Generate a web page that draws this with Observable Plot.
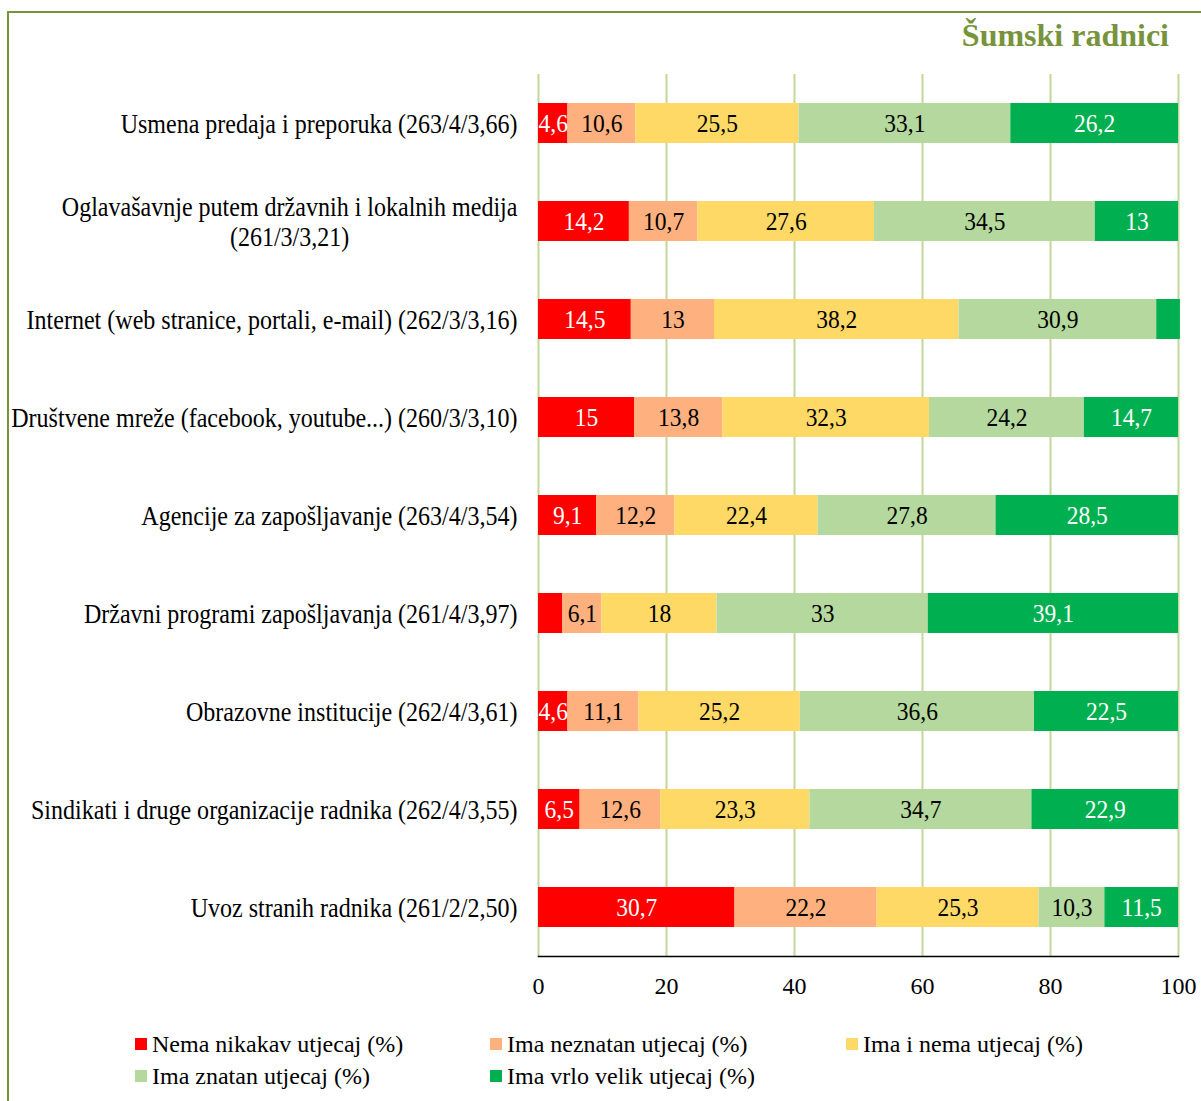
<!DOCTYPE html>
<html>
<head>
<meta charset="utf-8">
<script src="https://cdn.jsdelivr.net/npm/d3@7"></script>
<script src="https://cdn.jsdelivr.net/npm/@observablehq/plot@0.6"></script>
<style>
  body { margin: 0; background: #fff; }
  #root { position: relative; width: 1201px; height: 1101px; overflow: hidden; background: #fff;
          font-family: "Liberation Serif", "Times New Roman", serif; }
  #border { position: absolute; left: 7px; top: 11px; right: -5px; bottom: -5px;
            border-left: 2px solid #77933C; border-top: 2px solid #77933C; }
  #title { position: absolute; right: 32px; top: 19px; font-size: 32px; font-weight: bold;
           color: #77933C; line-height: 1; }
  #chart { position: absolute; left: 0; top: 60px; }
  #legend { position: absolute; left: 135px; top: 1030px; display: grid;
            grid-template-columns: 355px 356px auto; row-gap: 4px; font-size: 24px; color: #000; }
  .item { display: flex; align-items: center; white-space: nowrap; line-height: 28px; }
  .sw { width: 12px; height: 12px; margin-right: 5px; flex: none; }
</style>
</head>
<body>
<div id="root">
  <div id="border"></div>
  <div id="title">Šumski radnici</div>
  <div id="chart"></div>
  <div id="legend"></div>
</div>
<script>
const categories = [
  "Usmena predaja i preporuka (263/4/3,66)",
  "Oglavašavnje putem državnih i lokalnih medija\n(261/3/3,21)",
  "Internet (web stranice, portali, e-mail) (262/3/3,16)",
  "Društvene mreže (facebook, youtube...) (260/3/3,10)",
  "Agencije za zapošljavanje (263/4/3,54)",
  "Državni programi zapošljavanja (261/4/3,97)",
  "Obrazovne institucije (262/4/3,61)",
  "Sindikati i druge organizacije radnika (262/4/3,55)",
  "Uvoz stranih radnika (261/2/2,50)"
];
const seriesNames = [
  "Nema nikakav utjecaj (%)",
  "Ima neznatan utjecaj (%)",
  "Ima i nema utjecaj (%)",
  "Ima znatan utjecaj (%)",
  "Ima vrlo velik utjecaj (%)"
];
const seriesColors = ["#FF0000", "#FFB07F", "#FFD966", "#B4D89D", "#00B050"];
const labelColors = ["white", "black", "black", "black", "white"];

const nemaNikakav  = [4.6, 14.2, 14.5, 15,   9.1,  3.8, 4.6,  6.5,  30.7];
const imaNeznatan  = [10.6, 10.7, 13,  13.8, 12.2, 6.1, 11.1, 12.6, 22.2];
const imaINema     = [25.5, 27.6, 38.2, 32.3, 22.4, 18,  25.2, 23.3, 25.3];
const imaZnatan    = [33.1, 34.5, 30.9, 24.2, 27.8, 33,  36.6, 34.7, 10.3];
const imaVrloVelik = [26.2, 13,   3.7,  14.7, 28.5, 39.1, 22.5, 22.9, 11.5];
const seriesValues = [nemaNikakav, imaNeznatan, imaINema, imaZnatan, imaVrloVelik];

const xTicks = [0, 20, 40, 60, 80, 100];
const minLabelValue = 4;

const data = [];
categories.forEach((c, i) => {
  seriesValues.forEach((vals, j) => {
    data.push({cat: c, series: seriesNames[j], si: j, value: vals[i]});
  });
});

const fmt = v => String(v).replace(".", ",");
const labelFor = color => d =>
  (d.value >= minLabelValue && labelColors[d.si] === color) ? fmt(d.value) : null;

const chart = Plot.plot({
  width: 1201,
  height: 950,
  marginLeft: 538,
  marginRight: 23,
  marginTop: 14,
  marginBottom: 54,
  style: {
    fontFamily: "'Liberation Serif', 'Times New Roman', serif",
    fontSize: "21px",
    color: "#000",
    background: "transparent",
    overflow: "visible"
  },
  x: {domain: [0, 100], ticks: xTicks},
  y: {domain: categories, paddingInner: 0.59, paddingOuter: 0.295},
  color: {domain: seriesNames, range: seriesColors},
  marks: [
    Plot.gridX(xTicks, {stroke: "#C3D69B", strokeOpacity: 1, strokeWidth: 2}),
    Plot.barX(data, {x: "value", y: "cat", fill: "series"}),
    Plot.text(data, Plot.stackX({x: "value", y: "cat", z: "series", text: labelFor("white"), fill: "white", fontSize: 25})),
    Plot.text(data, Plot.stackX({x: "value", y: "cat", z: "series", text: labelFor("black"), fill: "black", fontSize: 25})),
    Plot.axisX({ticks: xTicks, tickSize: 0, tickPadding: 20, fontSize: 24, label: null}),
    Plot.axisY({tickSize: 0, tickPadding: 21, label: null, lineHeight: 1.1, fontSize: 27}),
    Plot.frame({anchor: "bottom", stroke: "#000", strokeWidth: 1.5})
  ]
});
document.getElementById("chart").appendChild(chart);

// the reference typeface is horizontally condensed: squeeze texts around their anchor
function squeeze(selector, s) {
  d3.select(chart).selectAll(selector).each(function () {
    const t = this.getAttribute("transform") || "";
    this.setAttribute("transform", t + ` scale(${s},1)`);
  });
}

// center the wrapped second line of the multi-line category label under the first
d3.select(chart).selectAll("g[aria-label='y-axis tick label'] text").each(function () {
  const tspans = this.querySelectorAll("tspan");
  if (tspans.length > 1) {
    const w = tspans[0].getComputedTextLength();
    this.setAttribute("text-anchor", "middle");
    tspans.forEach(t => t.setAttribute("x", -w / 2));
  }
});
squeeze("g[aria-label='y-axis tick label'] text", 0.89);
squeeze("g[aria-label='text'] text", 0.94);

// legend
const legend = document.getElementById("legend");
seriesNames.forEach((name, j) => {
  const item = document.createElement("div");
  item.className = "item";
  const sw = document.createElement("span");
  sw.className = "sw";
  sw.style.background = seriesColors[j];
  const lab = document.createElement("span");
  lab.textContent = name;
  item.appendChild(sw);
  item.appendChild(lab);
  legend.appendChild(item);
});
</script>
</body>
</html>
